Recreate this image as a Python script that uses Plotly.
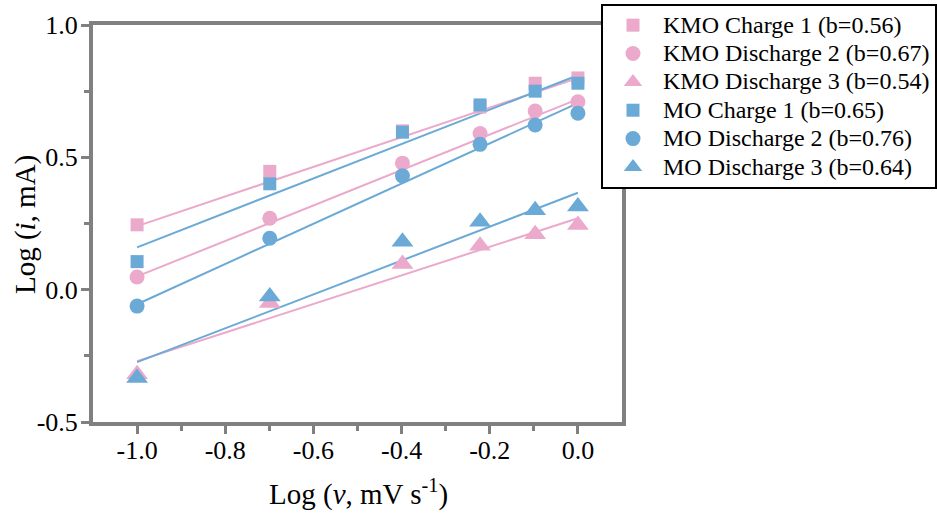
import plotly.graph_objects as go
import numpy as np

# Data
log_v = [-1.0, -0.699, -0.398, -0.222, -0.097, 0.0]

kmo_charge1 = [0.245, 0.447, 0.600, 0.690, 0.780, 0.800]
kmo_discharge2 = [0.048, 0.270, 0.478, 0.590, 0.675, 0.710]
kmo_discharge3 = [-0.320, -0.050, 0.097, 0.166, 0.209, 0.244]
mo_charge1 = [0.106, 0.400, 0.595, 0.698, 0.750, 0.780]
mo_discharge2 = [-0.062, 0.194, 0.430, 0.549, 0.622, 0.667]
mo_discharge3 = [-0.334, -0.026, 0.181, 0.257, 0.300, 0.314]

# Fit lines: slopes b (from legend) and intercepts at log v = 0
slopes = [0.56, 0.67, 0.54, 0.65, 0.76, 0.64]
intercepts = [0.800, 0.720, 0.270, 0.810, 0.705, 0.366]
fit_x = [-1.0, 0.0]

names = ["KMO Charge 1 (b=0.56)", "KMO Discharge 2 (b=0.67)", "KMO Discharge 3 (b=0.54)",
         "MO Charge 1 (b=0.65)", "MO Discharge 2 (b=0.76)", "MO Discharge 3 (b=0.64)"]
series = [kmo_charge1, kmo_discharge2, kmo_discharge3, mo_charge1, mo_discharge2, mo_discharge3]

PINK = "#EBA9CC"
BLUE = "#6BAAD6"
colors = [PINK, PINK, PINK, BLUE, BLUE, BLUE]
symbols = ["square", "circle", "triangle-up", "square", "circle", "triangle-up"]
sizes = [13, 15, 19, 13, 15, 19]

fig = go.Figure()

for i in range(6):
    fx = np.array(fit_x)
    fy = slopes[i] * fx + intercepts[i]
    fig.add_trace(go.Scatter(x=fx, y=fy, mode="lines", line=dict(color=colors[i], width=2),
                             showlegend=False, hoverinfo="skip"))

for i in range(6):
    fig.add_trace(go.Scatter(x=log_v, y=series[i], mode="markers",
                             name='<span style="font-size:24px">' + names[i] + '</span>',
                             marker=dict(color=colors[i], symbol=symbols[i], size=sizes[i],
                                         line=dict(width=0))))

FONT = "Liberation Serif"
axis_common = dict(
    showline=True, linecolor="#808080", linewidth=4, mirror=True,
    ticks="outside", ticklen=8, tickwidth=3, tickcolor="#808080",
    showgrid=False, zeroline=False,
    tickfont=dict(family=FONT, size=26, color="black"),
)

fig.update_xaxes(
    range=[-1.1, 0.1], tickmode="array",
    tickvals=[-1.0, -0.8, -0.6, -0.4, -0.2, 0.0],
    ticktext=["-1.0", "-0.8", "-0.6", "-0.4", "-0.2", "0.0"],
    minor=dict(ticks="outside", ticklen=5, tickwidth=3, tickcolor="#808080",
               tickvals=[-0.9, -0.7, -0.5, -0.3, -0.1]),
    ticklabelstandoff=-6,
    **axis_common,
)
fig.update_yaxes(
    range=[-0.5, 1.0], tickmode="array",
    tickvals=[-0.5, 0.0, 0.5, 1.0],
    ticktext=["-0.5", "0.0", "0.5", "1.0"],
    minor=dict(ticks="outside", ticklen=5, tickwidth=3, tickcolor="#808080",
               tickvals=[-0.25, 0.25, 0.75]),
    ticklabelstandoff=-2,
    **axis_common,
)

fig.add_annotation(text="Log (<i>v</i>, mV s<sup>-1</sup>)", xref="paper", yref="paper",
                   x=0.501, y=0, xanchor="center", yanchor="middle", yshift=-70,
                   showarrow=False, font=dict(family=FONT, size=29, color="black"))
fig.add_annotation(text="Log (<i>i</i>, mA)", xref="paper", yref="paper",
                   x=0, y=0.496, xanchor="center", yanchor="middle", xshift=-68,
                   textangle=-90, showarrow=False,
                   font=dict(family=FONT, size=29, color="black"))

fig.update_layout(
    width=937, height=519,
    margin=dict(l=93, r=315, t=25, b=97, autoexpand=False),
    plot_bgcolor="white", paper_bgcolor="white",
    font=dict(family=FONT, color="black"),
    legend=dict(
        x=(601 - 93) / 529, y=(422 - 4) / 397, xanchor="left", yanchor="top",
        font=dict(family=FONT, size=19.5, color="black"),
        bordercolor="black", borderwidth=2, bgcolor="white",
        tracegroupgap=0, itemwidth=50,
    ),
)

fig.write_html("out.html")
